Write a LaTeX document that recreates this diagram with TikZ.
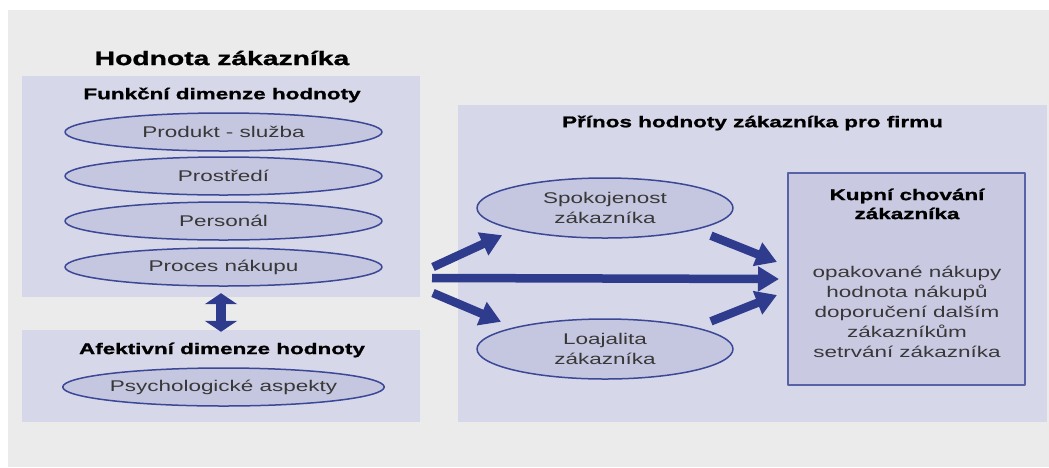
\documentclass[tikz,border=0pt]{standalone}
\usepackage{fontspec}
\setmainfont[FakeStretch=1.45, BoldFeatures={FakeBold=1.2}]{Liberation Sans}
\usetikzlibrary{shapes.geometric,arrows.meta}
\definecolor{cPozadi}{HTML}{EBEBEB}
\definecolor{cPanel}{HTML}{D7D7EA}
\definecolor{cElipsa}{HTML}{C5C6DF}
\definecolor{cModra}{HTML}{3A4896}
\definecolor{cSipka}{HTML}{2F3C8E}
\definecolor{cRamec}{HTML}{5862A8}
\definecolor{cBox}{HTML}{C9CAE2}
\definecolor{cSedy}{HTML}{383838}
\begin{document}
\begin{tikzpicture}[x=1pt, y=-1pt, line join=round,
  font=\fontsize{15.5}{20}\selectfont,
  panel/.style={fill=cPanel, minimum width=398pt, inner sep=0pt},
  elip/.style={ellipse, draw=cModra, line width=1.5pt, fill=cElipsa, minimum width=317pt, minimum height=38pt, inner sep=0pt, text=cSedy, align=center},
  nadpis/.style={font=\fontsize{15.5}{19}\selectfont\bfseries, align=center},
  velka/.style={line width=8.5pt, cSipka, -{Triangle[length=21pt,width=24pt]}}]
% --- Pozadí ---
\useasboundingbox (0,0) rectangle (1049,467);
\fill[cPozadi] (8,10) rectangle (1049,467);

% --- Levá část: hodnota zákazníka ---
\node[font=\fontsize{19.5}{22}\selectfont\bfseries] (hodnota) at (222,58) {Hodnota zákazníka};
\node[panel, minimum height=221pt] (funk) at (221,186.5) {};
\node[nadpis] (funkNadpis) at (222,95) {Funkční dimenze hodnoty};
\foreach \y/\t/\n in {132/Produkt - služba/e1, 176/Prostředí/e2, 221/Personál/e3, 267/Proces nákupu/e4}
  \node[elip] (\n) at (223.5,\y) {\t};

\node[panel, minimum height=92pt] (afek) at (221,376) {};
\node[nadpis] (afekNadpis) at (222,350) {Afektivní dimenze hodnoty};
\node[elip] (psych) at (223.5,387) {Psychologické aspekty};

% --- Šipka mezi dimenzemi ---
\draw[line width=10pt, cSipka, {Triangle[length=11pt,width=32pt]}-{Triangle[length=11pt,width=32pt]}, shorten <=-4pt, shorten >=-2pt] (funk.south) -- (afek.north);

% --- Pravá část: přínos pro firmu ---
\node[panel, minimum width=589pt, minimum height=317pt] (prinos) at (752.5,263.5) {};
\node[nadpis] (prinosNadpis) at (752.5,123) {Přínos hodnoty zákazníka pro firmu};
\node[elip, minimum width=256pt, minimum height=60pt] (spok) at (605,208) {Spokojenost\\zákazníka};
\node[elip, minimum width=256pt, minimum height=60pt] (loaj) at (605,349) {Loajalita\\zákazníka};

\node[draw=cRamec, line width=2pt, fill=cBox, minimum width=237pt, minimum height=212pt] (kupni) at (906.5,279) {};
\node[nadpis] (kupniNadpis) at (907,204) {Kupní chování\\zákazníka};
\node[align=center, text=cSedy] (kupniText) at (907,312) {opakované nákupy\\hodnota nákupů\\doporučení dalším\\zákazníkům\\setrvání zákazníka};

% --- Velké šipky ---
\coordinate (z1) at (433,267);
\coordinate (z2) at (432,278);
\coordinate (z3) at (433,293);
\draw[velka, shorten >=13pt] (z1) -- (spok.south west);
\draw[velka] (z2) -- ([xshift=-8pt]kupni.west);
\draw[velka, shorten >=14pt] (z3) -- (loaj.north west);
\draw[velka, shorten <=16pt] (spok.south east) -- ([xshift=-10pt,yshift=17pt]kupni.west);
\draw[velka, shorten <=16pt] (loaj.north east) -- ([xshift=-10pt,yshift=-16pt]kupni.west);
\end{tikzpicture}
\end{document}
